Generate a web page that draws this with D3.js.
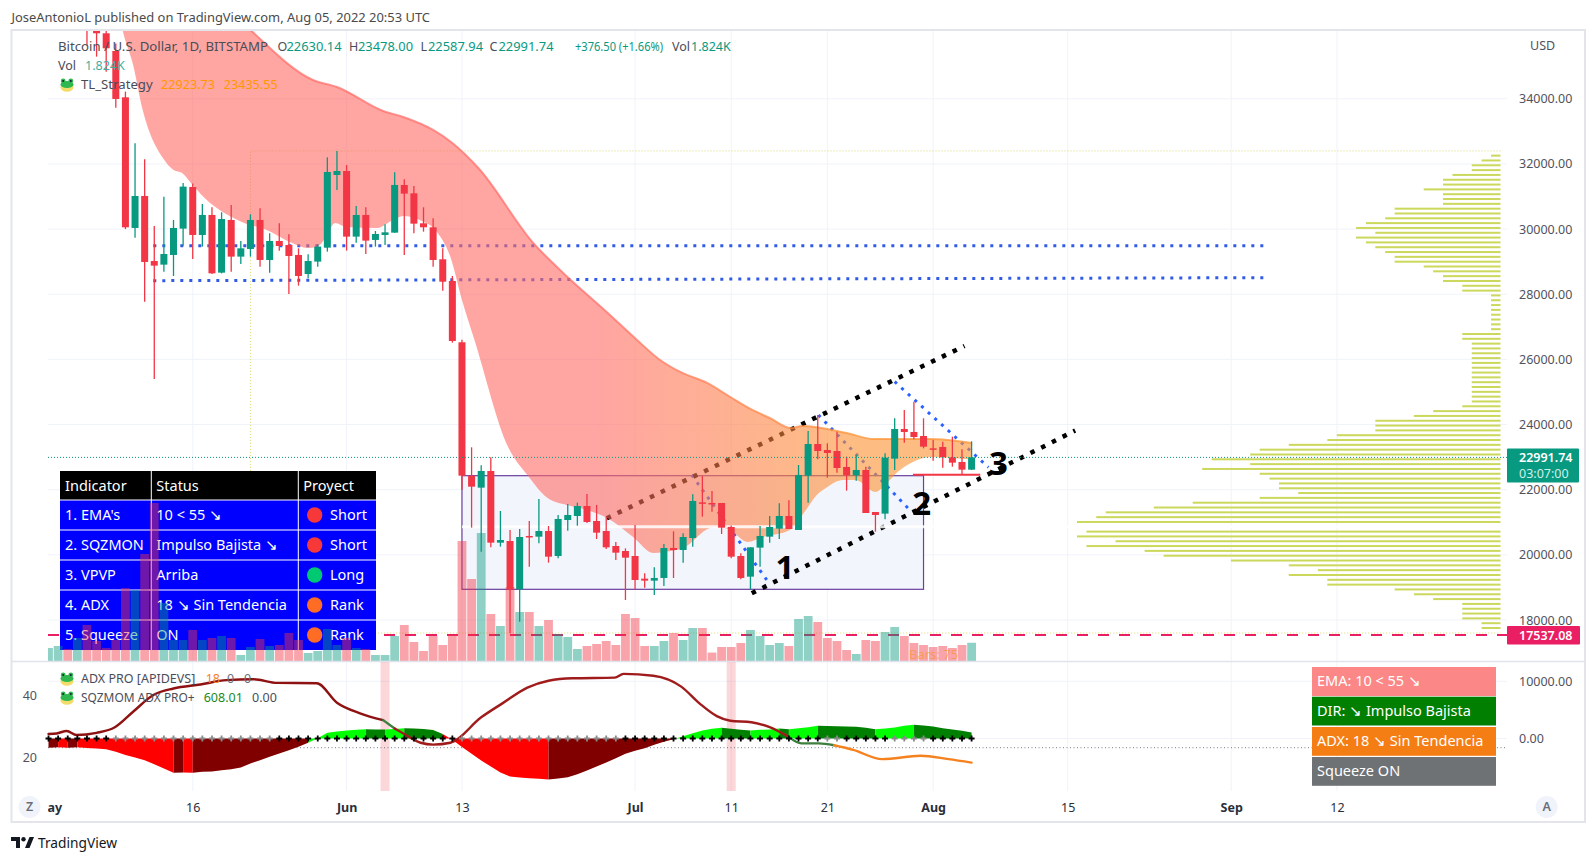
<!DOCTYPE html>
<html>
<head>
<meta charset="utf-8">
<script src="https://cdn.jsdelivr.net/npm/d3@7"></script>
<style>
  html, body { margin: 0; padding: 0; background: #fff; }
  svg { display: block; }
  text { font-family: "Noto Sans", sans-serif; }
</style>
</head>
<body>
<svg id="chart" width="1596" height="862"></svg>
<script>
// all days count from May 1 2022 = 0
const firstCandleDay = 4;
const opens = [39700,36500,36011,35468,34046,30035,31017,29020,28909,29206,30014,31293,29820,30434,28663,30280,29155,29390,30280,29052,29636,29513,29206,28622,29002,29431,31662,31784,29769,30434,29667,29820,29891,31355,31099,30178,30055,29073,28407,26526,22431,22063,22574,20374,20425,18942,20579,20558,20732,19965,21070,21193,21500,21039,20732,20272,20118,19965,19269,19208,19290,20211,20149,20517,21612,21592,21592,20855,19965,19331,20221,20558,20804,21193,20763,22431,23403,23219,23188,22697,22441,22605,21316,21265,22953,23864,23772,23649,23270,23311,22994,22851,22615];
const closes = [36500,36011,35550,33995,30055,31017,28991,28878,29236,30035,31304,29820,30434,28643,30311,29155,29410,30280,29052,29636,29482,29175,28561,29020,29462,31754,31784,29769,30434,29646,29850,29901,31355,31089,30167,30055,29052,28387,26565,22430,22093,22574,20374,20456,18942,20548,20548,20732,19944,21101,21224,21500,21009,20681,20231,20067,19914,19228,19208,19290,20211,20149,20548,21654,21582,21561,20835,19944,19290,20231,20579,20855,21193,20794,22452,23403,23188,23127,22666,22441,22605,21285,21224,22984,23864,23772,23618,23321,23250,22994,22830,22615,22994];
const highs = [40000,36700,36200,35700,34220,32634,32143,30096,30996,30280,31416,31400,30771,30669,30516,30741,29636,30454,30638,29871,30178,29840,29410,29226,29533,32204,32398,31969,30710,30669,29942,30147,31744,31529,31324,30669,30331,29410,28560,26600,23301,22748,22994,21346,20763,20794,21039,21715,20886,21224,21561,21602,21868,21531,21172,20395,20200,20916,19433,19617,20333,20722,20661,21858,22421,21960,21592,20900,20050,20231,20886,21193,21582,21674,22759,23802,24294,23424,23782,23014,23066,22707,21316,23117,24191,24447,24703,24191,23526,23475,23628,23240,23485];
const lows = [35632,35294,34834,33729,30000,29738,27772,25399,28694,28561,29492,29083,29462,28622,28640,28694,28930,29155,28848,28663,29339,28008,28264,28489,28848,29308,31201,29339,29584,29236,29462,29513,29891,29206,29871,29922,28848,28111,26513,22000,20835,20098,20231,20251,17591,17949,19638,20354,19760,19893,20743,20896,20980,20487,20180,19842,18614,18942,18993,18768,19044,19290,19760,20251,21172,21326,20640,19893,19250,18942,19638,20374,20487,20794,20763,21602,22933,22370,22523,21971,22278,21285,20712,21090,22605,23444,23546,23270,22892,22677,22707,22482,22605];

// volume in thousands of BTC, May 1 onwards
const volumes = [1.3,1.5,1.2,2.3,3.6,2.0,1.3,2.1,7.3,7.1,10.7,15.8,5.8,2.1,2.1,3.1,2.1,2.3,2.5,2.3,0.6,1.4,2.2,1.5,1.6,2.8,2.1,0.8,1.0,3.2,1.6,2.3,1.3,1.2,0.6,0.6,2.5,3.6,1.9,1.0,2.5,1.6,2.6,12.0,8.2,12.8,4.7,3.5,7.4,4.9,4.9,3.5,4.1,2.7,2.4,1.2,1.5,1.7,2.0,1.6,4.7,4.3,1.5,1.5,2.0,2.8,2.1,3.3,3.3,0.84,1.4,1.4,1.8,3.1,2.5,1.6,1.8,1.5,4.2,4.5,3.9,2.3,2.0,1.1,0.7,2.1,2.0,2.9,3.4,2.5,1.8,1.6,1.4,1.5,1.3,1.6,1.824];
const earlyVolumeUp = [true,true,false,true];

const priceTicks = [34000,32000,30000,28000,26000,24000,22000,20000,18000];
const dateTickDays = [0,15,31,43,61,71,81,92,106,123,134];
const dateTickLabels = ['May','16','Jun','13','Jul','11','21','Aug','15','Sep','12'];
const boldDateLabels = ['May','Jun','Jul','Aug','Sep'];

const emaSlowDays = [6.5,21,27.5,30,34.8,36.9,40,42,44.7,50.5,53.2,58.5,61.2,63.6,65.7,68.5,70.9,73,75,77.2,78.4,83,85.8,88.3,91.7,96];
const emaSlow = [41000,36113,34578,34363,33626,33442,33043,32644,31876,29543,28745,27333,26596,25982,25614,25276,24846,24478,24201,23894,23956,23741,23557,23557,23557,23435.55];
const emaFastDays = [6.5,7.7,8.8,9.8,11.9,13,13.9,14.9,16.8,17.5,20.1,22.7,25.1,27,27.9,28.8,29.8,31,34.2,35.8,36.9,38.6,40.4,41.8,43,44.3,47.8,49.8,51.9,53.9,56,58.1,60.8,62.9,64,66,68.8,69.5,70.9,72.7,74.3,77.1,78.4,79.9,81,82.6,83.9,86,87.2,88.3,89.9,91.7,96];
const emaFast = [38000,36113,35039,33657,32183,31815,31723,31385,30802,30648,30219,29973,29605,29420,29451,29727,30188,30065,30034,30280,30403,30280,29912,29144,27824,26596,23311,22451,21745,21530,21377,21131,20548,20057,20088,20210,20824,20855,20763,20395,20548,20763,21224,21837,22083,22298,22298,21930,22206,22544,22851,23004,22923.73];

// visible range profile rows, top to bottom
const vpTopPrice = 32255;
const vpBottomPrice = 17754;
const vpRows = [28,56,85,85,142,170,170,227,170,170,170,313,313,341,398,427,370,427,398,370,341,313,313,227,199,170,170,113,113,28,28,28,28,28,28,28,28,113,113,85,85,85,85,85,85,85,85,85,85,85,85,85,113,199,256,370,370,370,484,512,626,712,740,854,740,882,712,683,655,655,598,712,910,1025,1167,1195,1252,0,1224,1252,1138,1224,1052,996,797,626,540,626,512,512,313,256,199,113,113,113,113,56,56];
const pocPrice = 20860;
const vaHigh = 32400;
const vaLow = 17600;
const vaStartDay = 21;

const supportLevels = [[29491,29491],[28417,28509]];
const dotLevelDays = [10.9,126.5];
const boxDays = [43,91];
const boxPrices = [22430,18942];
const channelUpper = [[58.06,21122],[95.26,26412]];
const channelLower = [[73.14,18820],[106.77,23815]];
const zigzags = [
  [[66.9,22451],[74.7,19228]],
  [[80.07,24294],[89.8,21306]],
  [[88,25316],[97.75,22688]]
];
const redSegment = [[89.9,96.9],22461];
const waveLabels = [['1',76.6,19636],['2',90.8,21601],['3',98.8,22829]];
const lastPrice = 22991.74;
const lowLevel = 17537.08;

const sqzMomentum = [-1600,-1550,-1600,-1550,-1650,-1750,-1870,-2330,-2900,-3300,-3800,-4500,-5250,-6000,-5950,-6000,-5830,-5770,-5540,-5360,-5070,-4370,-3790,-3200,-2620,-2040,-1460,-760,50,990,1220,1400,1520,1620,1580,1560,1650,1780,1760,1650,1480,800,-200,-1500,-2680,-3850,-4900,-5950,-6650,-6820,-6940,-7050,-7170,-7000,-6760,-6240,-5600,-4900,-4200,-3440,-2680,-2160,-1690,-1100,-580,-120,400,930,1400,1690,1870,1690,1520,1400,1520,1570,1750,1630,1800,1980,2250,2200,2160,2100,2040,1870,1630,1750,1920,2210,2390,2270,2100,1800,1570,1340,1050];
const sqzGrayRuns = [[7,23],[43,59],[81,82],[88,91]];

const adxDays = [0,0.85,1.9,2.9,5,6.9,8.8,10.9,13,15.8,18.5,21.3,23.8,27.9,30,32.4,34.8,36,36.9,38.7,40,41.8,45,47.2,49.8,52,54.5,58.9,59.8,62.9,65.8,67.7,69.5,70.9,73.1,75,77,78.3,80.1,81.7,83.7,86.7,90.7,93.6,96];
const adxValues = [27.4,27.6,28.4,27.1,27.8,29.6,34.6,40,42.1,43.4,44.8,45.1,43.9,43.8,37.5,34.1,31.9,29.2,27.6,24.6,24,24.6,32.8,37.3,42.4,44.6,45.4,45.6,46.8,46.2,42.7,37.3,33.2,31.7,31.2,29.6,26.4,24.4,24.4,23.8,22.3,19.3,20.4,19.3,18.2];
const adxRuns = [[0,34.8,'#8f1212'],[34.8,36,'#3d7f3d'],[36,77,'#a01c1c'],[77,81.7,'#3d7f3d'],[81.7,96,'#f5821f']];
const adxThreshold = 23;
const rangeBandDays = [35,71];

const tableHeader = ['Indicator','Status','Proyect'];
const tableIndicators = ["1. EMA's",'2. SQZMON','3. VPVP','4. ADX','5. Squeeze'];
const tableStatus = ['10 < 55 ↘','Impulso Bajista ↘','Arriba','18 ↘ Sin Tendencia','ON'];
const tableProject = ['Short','Short','Long','Rank','Rank'];
const tableDots = ['#f73838','#f73838','#00c971','#ff6d24','#ff6d24'];

const sideLabels = ['EMA: 10 < 55 ↘','DIR: ↘ Impulso Bajista','ADX: 18 ↘ Sin Tendencia','Squeeze ON'];
const sideColors = ['#fb8787','#007f00','#f57e14','#6f7275'];

const svg = d3.select('#chart');
const RED = '#f23645', GREEN = '#089981', AXIS = '#50535e', GRID = '#f0f3fa';
const paneLeft = 48, paneRight = 1507, paneTop = 31, paneBottom = 661, lowerBottom = 791;

const x = d3.scaleLinear().domain([0,134]).range([48.5,1337]);
const y = d3.scaleLinear().domain([18000,34000]).range([620,98.8]);
const volY = d3.scaleLinear().domain([0,12.8]).range([661,533]);
const sqzY = d3.scaleLinear().domain([0,10000]).range([738.5,681.3]);
const adxY = d3.scaleLinear().domain([20,40]).range([757,695]);
const vpX = d3.scaleLinear().domain([0,1252]).range([1500.5,1077]);

const defs = svg.append('defs');
defs.append('clipPath').attr('id','mainClip').append('rect')
  .attr('x',paneLeft).attr('y',paneTop).attr('width',paneRight-paneLeft).attr('height',paneBottom-paneTop);
defs.append('clipPath').attr('id','timeClip').append('rect')
  .attr('x',paneLeft).attr('y',790).attr('width',1460).attr('height',30);

const grad = defs.append('linearGradient').attr('id','emaFill')
  .attr('gradientUnits','userSpaceOnUse').attr('x1',x(57)).attr('x2',x(84)).attr('y1',0).attr('y2',0);
grad.append('stop').attr('offset','0%').attr('stop-color','#ff6964');
grad.append('stop').attr('offset','100%').attr('stop-color','#fc912f');

// frame
svg.append('rect').attr('x',11.5).attr('y',30).attr('width',1573.5).attr('height',792)
  .attr('fill','#fff').attr('stroke','#e3e5ea').attr('stroke-width',2);

// grid
svg.append('g').selectAll('line').data(priceTicks).enter().append('line')
  .attr('x1',paneLeft).attr('x2',paneRight).attr('y1',(d)=>y(d)).attr('y2',(d)=>y(d)).attr('stroke',GRID);
svg.append('g').selectAll('line').data(dateTickDays.slice(1)).enter().append('line')
  .attr('x1',(d)=>x(d)).attr('x2',(d)=>x(d)).attr('y1',paneTop).attr('y2',lowerBottom).attr('stroke',GRID);
svg.append('g').selectAll('line').data([0,10000]).enter().append('line')
  .attr('x1',paneLeft).attr('x2',paneRight).attr('y1',(d)=>sqzY(d)).attr('y2',(d)=>sqzY(d)).attr('stroke',GRID);

const back = svg.append('g').attr('clip-path','url(#mainClip)');

// value area outline of the profile
back.append('path')
  .attr('d',`M${vpX(0)},${y(vaHigh)}H${x(vaStartDay)}V${y(vaLow)}H${vpX(0)}`)
  .attr('fill','none').attr('stroke','#d6dc6e').attr('stroke-dasharray','1 2');

// range box
back.append('rect')
  .attr('x',x(boxDays[0])).attr('y',y(boxPrices[0]))
  .attr('width',x(boxDays[1])-x(boxDays[0])).attr('height',y(boxPrices[1])-y(boxPrices[0]))
  .attr('fill','#f3f5fd').attr('stroke','#6a3f9e').attr('stroke-width',1.2);

// dotted levels
back.append('g').selectAll('line').data(supportLevels).enter().append('line')
  .attr('x1',x(dotLevelDays[0])).attr('x2',x(dotLevelDays[1]))
  .attr('y1',(d)=>y(d[0])).attr('y2',(d)=>y(d[1]))
  .attr('stroke','#2f5be6').attr('stroke-width',3).attr('stroke-dasharray','3 6');

const priceLine = d3.line().x((d)=>x(d[0])).y((d)=>y(d[1]));
back.append('g').selectAll('path').data(zigzags).enter().append('path')
  .attr('d',priceLine).attr('fill','none')
  .attr('stroke','#2962ff').attr('stroke-width',3).attr('stroke-dasharray','3 6');
back.append('g').selectAll('path').data([channelUpper,channelLower]).enter().append('path')
  .attr('d',priceLine).attr('fill','none')
  .attr('stroke','#000').attr('stroke-width',4.5).attr('stroke-dasharray','4.5 7.5');

// low level passes behind the table
back.append('line').attr('x1',paneLeft).attr('x2',paneRight).attr('y1',y(lowLevel)).attr('y2',y(lowLevel))
  .attr('stroke','#e91e63').attr('stroke-width',2).attr('stroke-dasharray','11 10');

// table sits under the volume bars
const tableX = [60,151.3,298.3,376];
const tableY = [471,500,530,560,590,620,650];
const table = svg.append('g');
table.append('rect').attr('x',tableX[0]).attr('y',tableY[0]).attr('width',tableX[3]-tableX[0]).attr('height',tableY[1]-tableY[0]).attr('fill','#000');
table.append('rect').attr('x',tableX[0]).attr('y',tableY[1]).attr('width',tableX[3]-tableX[0]).attr('height',tableY[6]-tableY[1]).attr('fill','#0000ff');
tableY.slice(1,6).forEach((ty)=>{
  table.append('line').attr('x1',tableX[0]).attr('x2',tableX[3]).attr('y1',ty).attr('y2',ty).attr('stroke','#fff');
});
tableX.slice(1,3).forEach((tx)=>{
  table.append('line').attr('x1',tx).attr('x2',tx).attr('y1',tableY[0]).attr('y2',tableY[6]).attr('stroke','#fff');
});
const cell = (tx,ty,str) => table.append('text').attr('x',tx).attr('y',ty).attr('dy','0.35em')
  .attr('fill','#fff').attr('font-size',14.5).text(str);
tableHeader.forEach((t,i)=>cell(tableX[i]+5,485.5,t));
tableIndicators.forEach((t,i)=>{
  const cy = (tableY[i+1]+tableY[i+2])/2;
  cell(tableX[0]+5,cy,t);
  cell(tableX[1]+5,cy,tableStatus[i]);
  table.append('circle').attr('cx',314.7).attr('cy',cy).attr('r',7.7).attr('fill',tableDots[i]);
  cell(330,cy,tableProject[i]);
});

const main = svg.append('g').attr('clip-path','url(#mainClip)');

// volume
const volumeUp = (i) => i<firstCandleDay ? earlyVolumeUp[i] : closes[i-firstCandleDay]>=opens[i-firstCandleDay];
main.append('g').selectAll('rect').data(volumes).enter().append('rect')
  .attr('x',(d,i)=>x(i)-4.4).attr('width',8.8)
  .attr('y',(d)=>volY(d)).attr('height',(d)=>volY(0)-volY(d))
  .attr('fill',(d,i)=>volumeUp(i)?GREEN:RED).attr('fill-opacity',0.45);

// EMA ribbon
const slowPts = emaSlowDays.map((d,i)=>[d,emaSlow[i]]);
const fastPts = emaFastDays.map((d,i)=>[d,emaFast[i]]);
const smooth = d3.line().x((d)=>x(d[0])).y((d)=>y(d[1])).curve(d3.curveMonotoneX);
const upperPath = smooth(slowPts);
const lowerPath = smooth(fastPts.slice().reverse());
main.append('path').attr('d',upperPath+'L'+lowerPath.slice(1)+'Z')
  .attr('fill','url(#emaFill)').attr('fill-opacity',0.6);
main.append('path').attr('d',upperPath).attr('fill','none')
  .attr('stroke','url(#emaFill)').attr('stroke-width',2).attr('stroke-opacity',0.7);

// point of control
main.append('line').attr('x1',x(boxDays[0])).attr('x2',vpX(0))
  .attr('y1',y(pocPrice)).attr('y2',y(pocPrice)).attr('stroke','#fff').attr('stroke-width',3).attr('stroke-opacity',0.85);

// profile
const vpStep = (vpTopPrice-vpBottomPrice)/(vpRows.length-1);
main.append('g').selectAll('rect').data(vpRows).enter().append('rect')
  .attr('x',(d)=>vpX(d)).attr('width',(d)=>vpX(0)-vpX(d))
  .attr('y',(d,i)=>y(vpTopPrice-i*vpStep)-1).attr('height',2)
  .attr('fill','#cbd85c');

// candles
const candles = main.append('g').selectAll('g').data(opens).enter().append('g');
const candleX = (i) => x(firstCandleDay+i);
candles.append('line')
  .attr('x1',(d,i)=>candleX(i)).attr('x2',(d,i)=>candleX(i))
  .attr('y1',(d,i)=>y(highs[i])).attr('y2',(d,i)=>y(lows[i]))
  .attr('stroke',(d,i)=>closes[i]>=d?GREEN:RED).attr('stroke-width',1.3);
candles.append('rect')
  .attr('x',(d,i)=>candleX(i)-3.5).attr('width',7)
  .attr('y',(d,i)=>y(Math.max(d,closes[i])))
  .attr('height',(d,i)=>Math.max(1.5,Math.abs(y(d)-y(closes[i]))))
  .attr('fill',(d,i)=>closes[i]>=d?GREEN:RED);

// price lines
main.append('line').attr('x1',paneLeft).attr('x2',paneRight).attr('y1',y(lastPrice)).attr('y2',y(lastPrice))
  .attr('stroke',GREEN).attr('stroke-dasharray','1 2');
main.append('line').attr('x1',x(redSegment[0][0])).attr('x2',x(redSegment[0][1]))
  .attr('y1',y(redSegment[1])).attr('y2',y(redSegment[1])).attr('stroke',RED).attr('stroke-width',2);

main.append('g').selectAll('text').data(waveLabels).enter().append('text')
  .attr('x',(d)=>x(d[1])).attr('y',(d)=>y(d[2])).attr('text-anchor','middle').attr('dy','0.36em')
  .attr('font-family','"DejaVu Sans", sans-serif').attr('font-weight','bold').attr('font-size',33).attr('fill','#000')
  .text((d)=>d[0]);

// orange bars count
svg.append('text').attr('x',909).attr('y',654).attr('dy','0.35em').attr('font-size',13)
  .attr('fill','#f7931e').attr('fill-opacity',0.6).text('Bars: 75');

// pane separator
svg.append('line').attr('x1',12).attr('x2',1585).attr('y1',661.5).attr('y2',661.5).attr('stroke','#e0e3eb').attr('stroke-width',1.5);

// lower pane
svg.append('g').selectAll('rect').data(rangeBandDays).enter().append('rect')
  .attr('x',(d)=>x(d)-4.5).attr('width',9).attr('y',662).attr('height',lowerBottom-662)
  .attr('fill',RED).attr('fill-opacity',0.2);
svg.append('line').attr('x1',paneLeft).attr('x2',paneRight).attr('y1',adxY(adxThreshold)).attr('y2',adxY(adxThreshold))
  .attr('stroke','#787b86').attr('stroke-dasharray','1 2.5');

const sqzArea = d3.area().x((d)=>x(d[0])).y0(sqzY(0)).y1((d)=>sqzY(d[1]));
const sqzColor = (i) => {
  const v = sqzMomentum[i];
  const rising = v>sqzMomentum[i-1];
  if (v>=0) return rising ? '#00ff00' : '#008000';
  return rising ? '#800000' : '#ff0000';
};
// join days of one colour so the area has no seams
const sqzRuns = [];
sqzMomentum.forEach((v,i)=>{
  if (i===0) return;
  const color = sqzColor(i);
  const last = sqzRuns[sqzRuns.length-1];
  if (last && last.color===color) last.points.push([i,v]);
  else sqzRuns.push({color:color,points:[[i-1,sqzMomentum[i-1]],[i,v]]});
});
svg.append('g').selectAll('path').data(sqzRuns).enter().append('path')
  .attr('d',(r)=>sqzArea(r.points)).attr('fill',(r)=>r.color);

const adxPts = adxDays.map((d,i)=>[d,adxValues[i]]);
const adxLine = d3.line().x((d)=>x(d[0])).y((d)=>adxY(d[1])).curve(d3.curveMonotoneX);
svg.append('g').selectAll('path').data(adxRuns).enter().append('path')
  .attr('d',(r)=>adxLine(adxPts.filter((p)=>p[0]>=r[0]&&p[0]<=r[1])))
  .attr('fill','none').attr('stroke',(r)=>r[2]).attr('stroke-width',2.4).attr('stroke-linecap','round');

// squeeze crosses on the zero line
const isGray = (d) => sqzGrayRuns.some((r)=>d>=r[0]&&d<=r[1]);
svg.append('g').selectAll('path').data(d3.range(sqzMomentum.length)).enter().append('path')
  .attr('d',(d)=>`M${x(d)-3},${sqzY(0)}h6M${x(d)},${sqzY(0)-3}v6`)
  .attr('stroke',(d)=>isGray(d)?'#8a8a8a':'#000').attr('stroke-width',1.8).attr('fill','none');

// side panel
const sideG = svg.append('g');
const sideY = [667,696.7,727,757];
sideLabels.forEach((t,i)=>{
  sideG.append('rect').attr('x',1312).attr('y',sideY[i]).attr('width',184).attr('height',i===0?29:28.8).attr('fill',sideColors[i]);
  sideG.append('text').attr('x',1317).attr('y',sideY[i]+14.3).attr('dy','0.35em').attr('fill','#fff').attr('font-size',14.5).text(t);
});

// axes
const priceAxis = svg.append('g').attr('transform',`translate(${paneRight},0)`)
  .call(d3.axisRight(y).tickValues(priceTicks).tickFormat(d3.format('.2f')).tickSize(0).tickPadding(12));
const sqzAxis = svg.append('g').attr('transform',`translate(${paneRight},0)`)
  .call(d3.axisRight(sqzY).tickValues([0,10000]).tickFormat(d3.format('.2f')).tickSize(0).tickPadding(12));
const adxAxis = svg.append('g').attr('transform','translate(37,0)')
  .call(d3.axisLeft(adxY).tickValues([20,40]).tickSize(0).tickPadding(0));
const timeAxis = svg.append('g').attr('clip-path','url(#timeClip)').append('g').attr('transform','translate(0,803)')
  .call(d3.axisBottom(x).tickValues(dateTickDays).tickFormat((d,i)=>dateTickLabels[i]).tickSize(0).tickPadding(0));
[priceAxis,sqzAxis,adxAxis,timeAxis].forEach((a)=>{
  a.select('.domain').remove();
  a.selectAll('text').attr('fill',AXIS).style('font-size','12.5px').style('font-family','"Noto Sans", sans-serif');
});
timeAxis.selectAll('text').attr('fill','#2a2e39').style('font-weight',(d,i)=>boldDateLabels.includes(dateTickLabels[i])?'700':'400');

svg.append('text').attr('x',1530).attr('y',46).attr('dy','0.35em').attr('font-size',12.5).attr('fill',AXIS).text('USD');

// price tags
svg.append('rect').attr('x',1507).attr('y',448.5).attr('width',72).attr('height',34).attr('fill',GREEN).attr('rx',1);
svg.append('text').attr('x',1519).attr('y',458).attr('dy','0.35em').attr('font-size',12.5).attr('font-weight',600).attr('fill','#fff').text('22991.74');
svg.append('text').attr('x',1519).attr('y',473.5).attr('dy','0.35em').attr('font-size',12.5).attr('fill','#d0efe8').text('03:07:00');
svg.append('rect').attr('x',1507).attr('y',626).attr('width',73).attr('height',18.5).attr('fill','#e91e63').attr('rx',1);
svg.append('text').attr('x',1519).attr('y',635.5).attr('dy','0.35em').attr('font-size',12.5).attr('font-weight',600).attr('fill','#fff').text('17537.08');

// axis buttons
[[29.5,'Z'],[1546.7,'A']].forEach((b)=>{
  svg.append('circle').attr('cx',b[0]).attr('cy',807).attr('r',11).attr('fill','#f0f3fa');
  svg.append('text').attr('x',b[0]).attr('y',807).attr('dy','0.35em').attr('text-anchor','middle')
    .attr('font-size',12.5).attr('font-weight',600).attr('fill','#6a6d78').text(b[1]);
});

// legends
const legendText = (tx,ty,str,color,fitWidth) => {
  const t = svg.append('text').attr('x',tx).attr('y',ty).attr('dy','0.35em')
    .attr('font-size',12.5).attr('fill',color).text(str);
  if (fitWidth) t.attr('textLength',fitWidth).attr('lengthAdjust','spacingAndGlyphs');
};
const TITLE = '#4a4d58', TEAL = '#089981';
legendText(58,47,'Bitcoin / U.S. Dollar, 1D, BITSTAMP',TITLE,210);
[[277.5,'O',286.5,'22630.14'],[349,'H',358,'23478.00'],[420.5,'L',428,'22587.94'],[489.5,'C',498.5,'22991.74']].forEach((o)=>{
  legendText(o[0],47,o[1],TITLE);
  legendText(o[2],47,o[3],TEAL,55);
});
legendText(575,47,'+376.50 (+1.66%)',TEAL,88);
legendText(672,47,'Vol',TITLE);
legendText(691,47,'1.824K',TEAL);
legendText(58,66,'Vol',TITLE);
legendText(85,66,'1.824K','#3fae9f');
legendText(81,85,'TL_Strategy',TITLE,71.7);
legendText(161,85,'22923.73','#ff9800',54);
legendText(223.7,85,'23435.55','#ff9800',54);
legendText(81,679,'ADX PRO [APIDEVS]',TITLE);
legendText(205.7,679,'18','#f5821f');
legendText(227,679,'0','#6a6d78');
legendText(244,679,'0','#6a6d78');
legendText(81,698,'SQZMOM ADX PRO+',TITLE,113.7);
legendText(203.7,698,'608.01','#1b8a1b');
legendText(252,698,'0.00',TITLE);

// frog icons
const frog = (cx,cy) => {
  const g = svg.append('g').attr('transform',`translate(${cx},${cy})`);
  g.append('ellipse').attr('cy',2.5).attr('rx',6.5).attr('ry',4.2).attr('fill','#f4dc6a');
  g.append('ellipse').attr('cy',-0.5).attr('rx',6.5).attr('ry',3.6).attr('fill','#2eb84f');
  g.append('circle').attr('cx',-3.8).attr('cy',-4).attr('r',2.4).attr('fill','#2eb84f');
  g.append('circle').attr('cx',3.8).attr('cy',-4).attr('r',2.4).attr('fill','#2eb84f');
  g.append('circle').attr('cx',-3.8).attr('cy',-4).attr('r',1).attr('fill','#123');
  g.append('circle').attr('cx',3.8).attr('cy',-4).attr('r',1).attr('fill','#123');
};
frog(67,85); frog(67,679); frog(67,698);

// header and footer
svg.append('text').attr('x',11.5).attr('y',17).attr('dy','0.35em').attr('font-size',13).attr('fill','#4a4a4a')
  .attr('textLength',418.5).attr('lengthAdjust','spacingAndGlyphs')
  .text('JoseAntonioL published on TradingView.com, Aug 05, 2022 20:53 UTC');
svg.append('path').attr('fill','#131722')
  .attr('d','M11,837h9v11h-4v-7h-5zM25,848l4.5,-11h4.5l-4.5,11z');
svg.append('circle').attr('cx',23.5).attr('cy',839.2).attr('r',2.2).attr('fill','#131722');
svg.append('text').attr('x',38).attr('y',843).attr('dy','0.35em').attr('font-size',14).attr('fill','#131722')
  .attr('textLength',79).attr('lengthAdjust','spacingAndGlyphs').text('TradingView');
</script>
</body>
</html>
